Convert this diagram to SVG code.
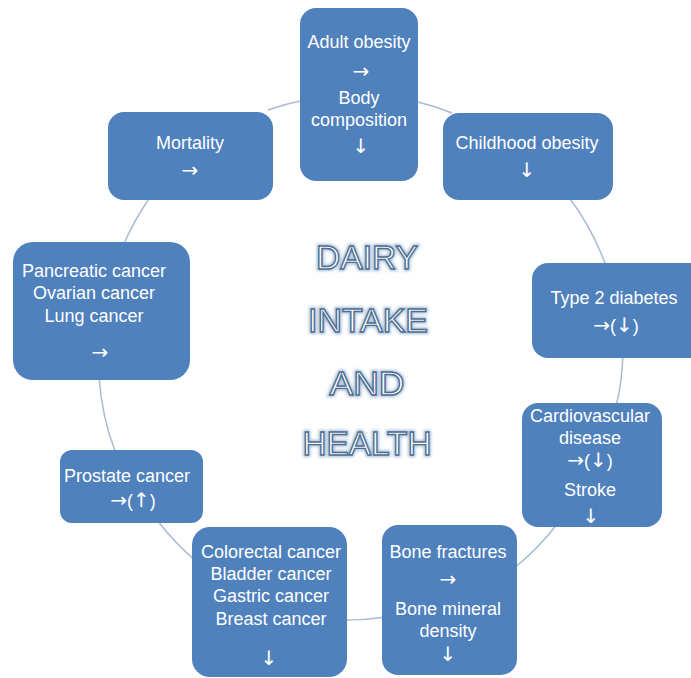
<svg xmlns="http://www.w3.org/2000/svg" width="691" height="678" viewBox="0 0 691 678">
<defs>
<style>
.node rect{fill:#4f81bd;}
.node text{fill:#ffffff;font-family:"Liberation Sans",Arial,sans-serif;font-size:18px;text-anchor:middle;}
.node .ar{font-family:"DejaVu Sans",sans-serif;font-size:20px;}
.conn path{fill:none;stroke:#a9bbd2;stroke-width:1.5;}
.title{font-family:"Liberation Sans",Arial,sans-serif;font-size:34px;text-anchor:middle;fill:#ffffff;stroke:#4d6e90;stroke-width:1.4;}
.glow{font-family:"Liberation Sans",Arial,sans-serif;font-size:34px;text-anchor:middle;fill:none;stroke:#a7bed9;stroke-width:4;}
</style>
<filter id="blur" x="-20%" y="-50%" width="140%" height="200%"><feGaussianBlur stdDeviation="1.5"/></filter>
</defs>
<rect width="691" height="678" fill="#ffffff"/>
<g id="connectors" class="conn">
<path d="M268 110 A262 262 0 0 1 305 100"/>
<path d="M414 101 A262 262 0 0 1 452 113"/>
<path d="M568 196 A262 262 0 0 1 606 266"/>
<path d="M623 354 A262 262 0 0 1 616 407"/>
<path d="M558 523 A262 262 0 0 1 513 569"/>
<path d="M386 617 A262 262 0 0 1 343 620"/>
<path d="M196 561 A262 262 0 0 1 157 520"/>
<path d="M116 454 A262 262 0 0 1 99 376"/>
<path d="M123 246 A262 262 0 0 1 151 196"/>
</g>
<g id="title">
<g filter="url(#blur)">
<text class="glow" x="367" y="269" textLength="102" lengthAdjust="spacingAndGlyphs">DAIRY</text>
<text class="glow" x="368" y="332" textLength="120" lengthAdjust="spacingAndGlyphs">INTAKE</text>
<text class="glow" x="367" y="395" textLength="75" lengthAdjust="spacingAndGlyphs">AND</text>
<text class="glow" x="367" y="455" textLength="129" lengthAdjust="spacingAndGlyphs">HEALTH</text>
</g>
<text class="title" x="367" y="269" textLength="102" lengthAdjust="spacingAndGlyphs">DAIRY</text>
<text class="title" x="368" y="332" textLength="120" lengthAdjust="spacingAndGlyphs">INTAKE</text>
<text class="title" x="367" y="395" textLength="75" lengthAdjust="spacingAndGlyphs">AND</text>
<text class="title" x="367" y="455" textLength="129" lengthAdjust="spacingAndGlyphs">HEALTH</text>
</g>
<g id="adult-obesity" class="node">
<rect x="300" y="8" width="118" height="173" rx="16"/>
<text x="359" y="48">Adult obesity</text>
<text class="ar" x="361" y="78">→</text>
<text x="359" y="104">Body</text>
<text x="359" y="126">composition</text>
<text class="ar" x="361" y="153">↓</text>
</g>
<g id="mortality" class="node">
<rect x="108" y="112" width="165" height="88" rx="16"/>
<text x="190" y="149">Mortality</text>
<text class="ar" x="190" y="177">→</text>
</g>
<g id="childhood-obesity" class="node">
<rect x="443" y="113" width="170" height="87" rx="16"/>
<text x="527" y="149">Childhood obesity</text>
<text class="ar" x="527" y="177">↓</text>
</g>
<g id="type2-diabetes" class="node">
<rect x="532" y="263" width="175" height="95" rx="16"/>
<text x="614" y="304">Type 2 diabetes</text>
<text x="616" y="332"><tspan class="ar">→</tspan>(<tspan class="ar">↓</tspan>)</text>
</g>
<g id="cardiovascular" class="node">
<rect x="522" y="403" width="140" height="124" rx="16"/>
<text x="590" y="422">Cardiovascular</text>
<text x="590" y="444">disease</text>
<text x="590" y="467"><tspan class="ar">→</tspan>(<tspan class="ar">↓</tspan>)</text>
<text x="590" y="496">Stroke</text>
<text class="ar" x="591" y="523">↓</text>
</g>
<g id="bone" class="node">
<rect x="382" y="525" width="135" height="150" rx="16"/>
<text x="448" y="558">Bone fractures</text>
<text class="ar" x="448" y="586">→</text>
<text x="448" y="615">Bone mineral</text>
<text x="448" y="637">density</text>
<text class="ar" x="448" y="661">↓</text>
</g>
<g id="colorectal" class="node">
<rect x="192" y="527" width="155" height="150" rx="18"/>
<text x="271" y="558">Colorectal cancer</text>
<text x="271" y="580">Bladder cancer</text>
<text x="271" y="602">Gastric cancer</text>
<text x="271" y="625">Breast cancer</text>
<text class="ar" x="269" y="665">↓</text>
</g>
<g id="prostate" class="node">
<rect x="60" y="450" width="143" height="73" rx="12"/>
<text x="127" y="482">Prostate cancer</text>
<text x="133" y="507"><tspan class="ar">→</tspan>(<tspan class="ar">↑</tspan>)</text>
</g>
<g id="pancreatic" class="node">
<rect x="13" y="242" width="177" height="138" rx="20"/>
<text x="94" y="277">Pancreatic cancer</text>
<text x="94" y="299">Ovarian cancer</text>
<text x="94" y="322">Lung cancer</text>
<text class="ar" x="100" y="359">→</text>
</g>
</svg>
